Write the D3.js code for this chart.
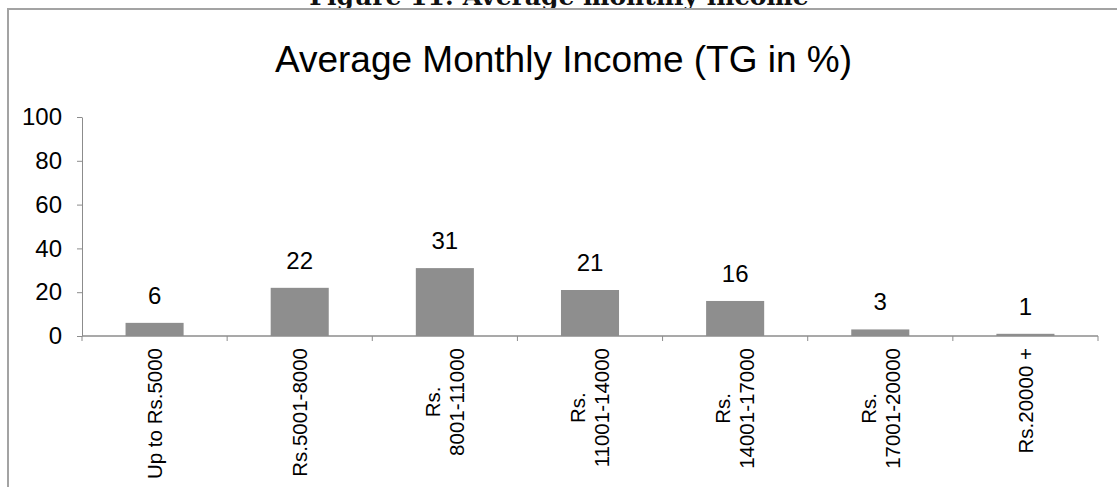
<!DOCTYPE html>
<html>
<head>
<meta charset="utf-8">
<script src="https://cdn.jsdelivr.net/npm/d3@7"></script>
<style>
  body { margin: 0; background: #fff; }
  svg { display: block; font-family: 'Liberation Sans', Arial, Helvetica, sans-serif; }
</style>
</head>
<body>
<div id="chart"></div>
<script>
var categories = [
  'Up to Rs.5000',
  'Rs.5001-8000',
  'Rs.\n8001-11000',
  'Rs.\n11001-14000',
  'Rs.\n14001-17000',
  'Rs.\n17001-20000',
  'Rs.20000 +'
]
var values = [6, 22, 31, 21, 16, 3, 1]
var yTicks = [0, 20, 40, 60, 80, 100]

var width = 1117
var height = 487
var margin = { top: 117, left: 82, right: 19, bottom: 151 }

var svg = d3
  .select('#chart')
  .append('svg')
  .attr('width', width)
  .attr('height', height)

// page frame + cut-off caption above it
svg
  .append('text')
  .text('Figure 11: Average monthly income')
  .attr('x', 559)
  .attr('y', 5)
  .attr('text-anchor', 'middle')
  .attr('font-family', "'DejaVu Serif', 'Liberation Serif', serif")
  .attr('font-weight', 700)
  .attr('font-size', 25)
  .attr('fill', '#111')

svg
  .append('path')
  .attr('d', 'M8,' + height + 'V9H' + width)
  .attr('fill', 'none')
  .attr('stroke', '#a3a3a3')
  .attr('stroke-width', 2)

svg
  .append('text')
  .text('Average Monthly Income (TG in %)')
  .attr('x', 563.5)
  .attr('y', 72)
  .attr('text-anchor', 'middle')
  .attr('font-size', 37)
  .attr('fill', '#000')

var xScale = d3
  .scaleBand()
  .domain(categories)
  .range([margin.left, width - margin.right])
  .paddingInner(0.6)
  .paddingOuter(0.3)

var yScale = d3
  .scaleLinear()
  .domain([0, 100])
  .range([height - margin.bottom, margin.top])

var yAxis = d3
  .axisLeft(yScale)
  .tickValues(yTicks)
  .tickSize(5)
  .tickSizeOuter(0)
  .tickPadding(15)

var yg = svg
  .append('g')
  .attr('transform', 'translate(' + margin.left + ',0)')
  .call(yAxis)

yg.selectAll('path, line').attr('stroke', '#8c8c8c')
yg.selectAll('text')
  .attr('font-size', 24)
  .attr('font-family', "'Liberation Sans', Arial, sans-serif")
  .attr('fill', '#000')

// bars
svg
  .selectAll('.bar')
  .data(values)
  .enter()
  .append('rect')
  .attr('class', 'bar')
  .attr('x', (d, i) => xScale(categories[i]))
  .attr('y', d => yScale(d))
  .attr('width', xScale.bandwidth())
  .attr('height', d => yScale(0) - yScale(d))
  .attr('fill', '#8e8e8e')

// x axis line with ticks at band boundaries
var y0 = yScale(0)
var step = xScale.step()
var x0 = margin.left
svg
  .append('line')
  .attr('x1', x0)
  .attr('x2', width - margin.right)
  .attr('y1', y0)
  .attr('y2', y0)
  .attr('stroke', '#8c8c8c')
  .attr('stroke-width', 1.5)

svg
  .selectAll('.xtick')
  .data(d3.range(categories.length + 1))
  .enter()
  .append('line')
  .attr('class', 'xtick')
  .attr('x1', i => x0 + i * step)
  .attr('x2', i => x0 + i * step)
  .attr('y1', y0)
  .attr('y2', y0 + 5)
  .attr('stroke', '#8c8c8c')

// value labels
svg
  .selectAll('.value')
  .data(values)
  .enter()
  .append('text')
  .attr('class', 'value')
  .text(d => d)
  .attr('x', (d, i) => xScale(categories[i]) + xScale.bandwidth() / 2)
  .attr('y', d => yScale(d) - 19)
  .attr('text-anchor', 'middle')
  .attr('font-size', 24)
  .attr('fill', '#000')

// rotated category labels, lines centred, block hangs below the axis
var lineGap = 24
categories.forEach((c, i) => {
  var lines = c.split('\n')
  var cx = xScale(c) + xScale.bandwidth() / 2
  var g = svg.append('g')
  var t = g
    .append('text')
    .attr('text-anchor', 'middle')
    .attr('font-size', 20.5)
    .attr('fill', '#000')
  lines.forEach((l, j) => {
    t.append('tspan')
      .attr('x', 0)
      .attr('y', (j - (lines.length - 1) / 2) * lineGap + 7.3)
      .text(l)
  })
  var longest = d3.max(t.selectAll('tspan').nodes(), n => n.getComputedTextLength())
  g.attr('transform', 'translate(' + cx + ',' + (348 + longest / 2) + ') rotate(-90)')
})
</script>
</body>
</html>
